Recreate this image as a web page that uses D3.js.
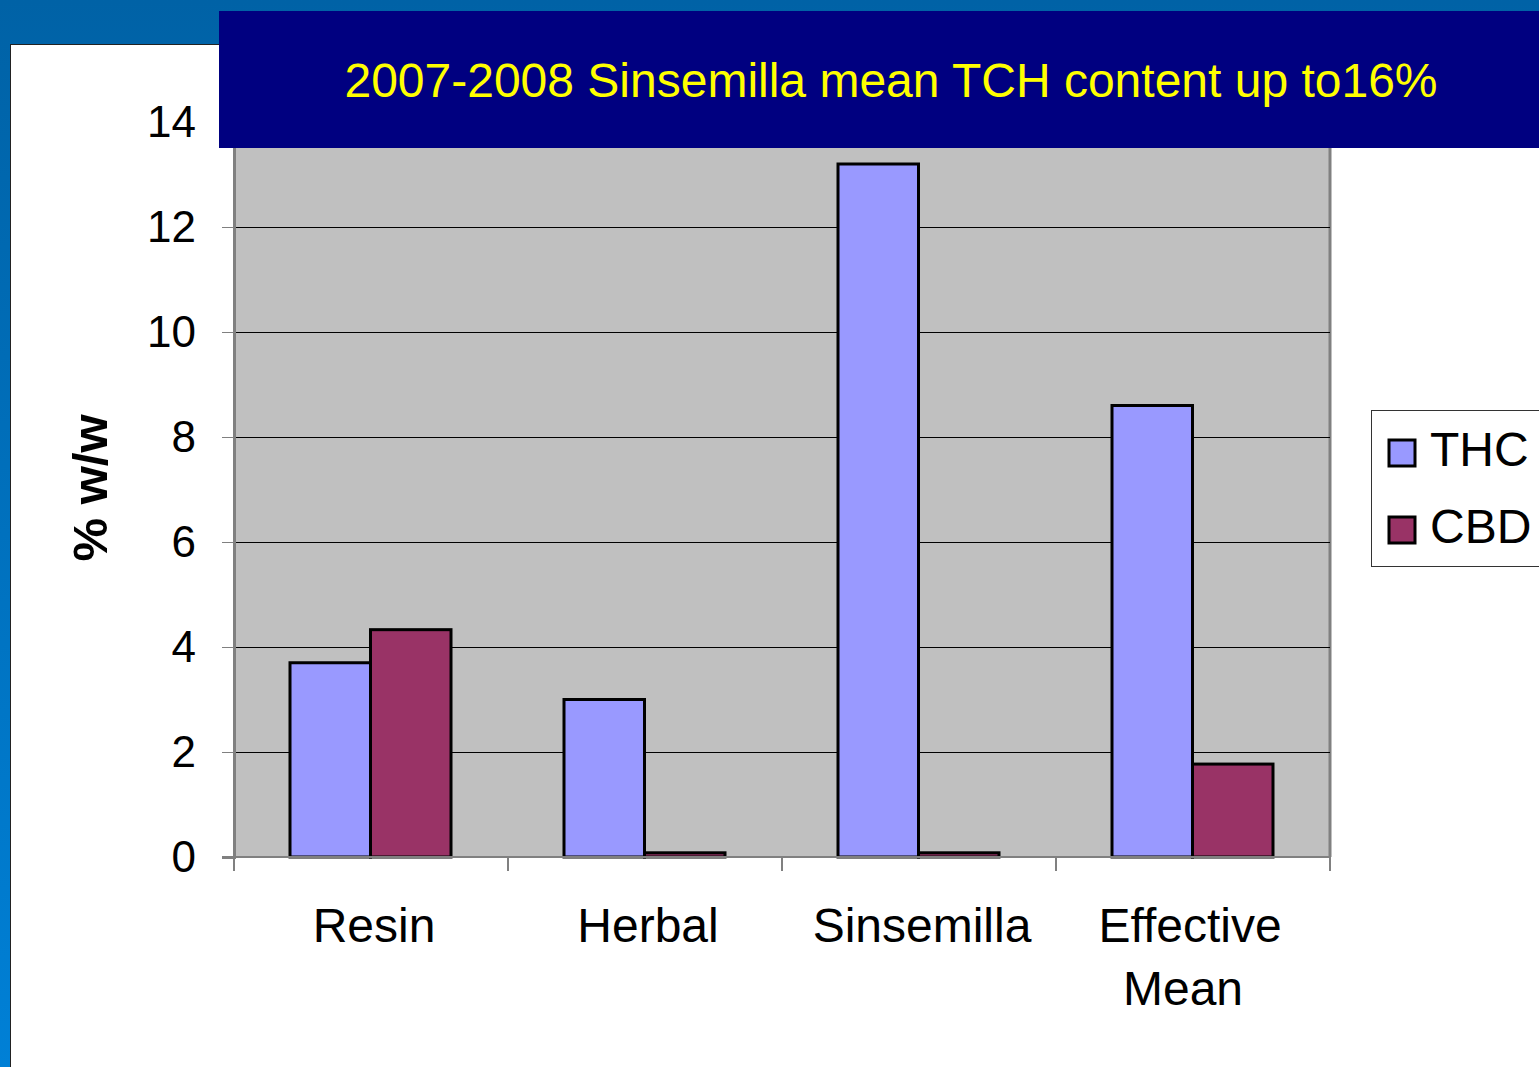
<!DOCTYPE html>
<meta charset="utf-8">
<style>
body { margin: 0; overflow: hidden; }
text { font-family: "Liberation Sans", Arial, sans-serif; }
.grid line { stroke: #000; stroke-width: 1; }
.axis path, .axis line { stroke: #808080; }
</style>
<svg width="1539" height="1067"></svg>
<script src="https://cdn.jsdelivr.net/npm/d3@7"></script>
<script>

var categories = ["Resin", "Herbal", "Sinsemilla", "Effective Mean"];
var series = ["THC", "CBD"];
var thc = [3.7, 3.0, 13.2, 8.6];
var cbd = [4.33, 0.08, 0.08, 1.77];
var yTicks = [0, 2, 4, 6, 8, 10, 12, 14];
var colors = ["#9999FF", "#993366"];
var title = "2007-2008 Sinsemilla mean TCH content up to16%";

var svg = d3.select("svg");

// slide background
var grad = svg.append("defs").append("linearGradient")
    .attr("id", "bg").attr("x1", 0).attr("y1", 0).attr("x2", 0).attr("y2", 1);
grad.append("stop").attr("offset", "0%").attr("stop-color", "#0062A6");
grad.append("stop").attr("offset", "100%").attr("stop-color", "#0080D6");
svg.append("rect").attr("width", 1539).attr("height", 1067).attr("fill", "url(#bg)");
svg.append("rect").attr("x", 10.5).attr("y", 44.5).attr("width", 1540).attr("height", 1040)
    .attr("fill", "#fff").attr("stroke", "#222").attr("stroke-width", 1);

var pLeft = 234, pRight = 1330, pTop = 122, pBottom = 857;

var x = d3.scaleBand().domain(categories).range([pLeft, pRight]);
var x1 = d3.scaleBand().domain(series).range([56, x.bandwidth() - 57]);
var y = d3.scaleLinear().domain([0, 14]).range([pBottom, pTop]);

// plot area
svg.append("rect").attr("x", pLeft).attr("y", pTop).attr("width", pRight - pLeft).attr("height", pBottom - pTop)
    .attr("fill", "#C0C0C0");
svg.append("line").attr("x1", pRight).attr("x2", pRight).attr("y1", pTop).attr("y2", pBottom)
    .attr("stroke", "#808080").attr("stroke-width", 3);

svg.append("g").attr("class", "grid")
    .selectAll("line").data(yTicks.filter(function(d) { return d > 0; }))
    .enter().append("line")
    .attr("x1", pLeft).attr("x2", pRight)
    .attr("y1", function(d) { return Math.round(y(d)) + 0.5; })
    .attr("y2", function(d) { return Math.round(y(d)) + 0.5; });

// bars
var data = categories.map(function(c, i) { return { cat: c, vals: [thc[i], cbd[i]] }; });
svg.append("g").selectAll("g").data(data).enter().append("g")
    .attr("transform", function(d) { return "translate(" + x(d.cat) + ",0)"; })
    .selectAll("rect").data(function(d) { return d.vals.map(function(v, j) { return { s: series[j], v: v, j: j }; }); })
    .enter().append("rect")
    .attr("x", function(d) { return x1(d.s); })
    .attr("width", x1.bandwidth())
    .attr("y", function(d) { return y(d.v); })
    .attr("height", function(d) { return y(0) - y(d.v); })
    .attr("fill", function(d) { return colors[d.j]; })
    .attr("stroke", "#000").attr("stroke-width", 3);

// axes
var yAxis = svg.append("g").attr("class", "axis")
    .attr("transform", "translate(" + pLeft + ",0)")
    .call(d3.axisLeft(y).tickValues(yTicks).tickSize(12).tickPadding(26));
yAxis.select(".domain").attr("stroke-width", 3);
yAxis.selectAll("text").attr("font-size", 44).attr("fill", "#000").attr("dy", "0.34em");

var xAxis = svg.append("g").attr("class", "axis")
    .attr("transform", "translate(0," + pBottom + ")");
xAxis.append("line").attr("x1", pLeft - 12).attr("x2", pRight).attr("stroke-width", 2);
xAxis.selectAll("line.tk").data(x.domain().map(function(c) { return x(c); }).concat([pRight]))
    .enter().append("line").attr("class", "tk")
    .attr("x1", function(d) { return d; }).attr("x2", function(d) { return d; })
    .attr("y1", 0).attr("y2", 14).attr("stroke-width", 2);
xAxis.selectAll("text").data(categories).enter().append("text")
    .attr("text-anchor", "middle").attr("font-size", 48)
    .each(function(d) {
        var words = d.split(" ");
        var t = d3.select(this);
        words.forEach(function(w, i) {
            var off = words.length > 1 ? (i ? -10 : -3) : 3;
            t.append("tspan").attr("x", x(d) + x.bandwidth() / 2 + off)
                .attr("y", 85 + i * 63).text(w);
        });
    });

// y axis label
svg.append("text")
    .attr("transform", "translate(107,488) rotate(-90)")
    .attr("text-anchor", "middle").attr("font-size", 49).attr("font-weight", "bold")
    .text("% w/w");

// title banner
svg.append("rect").attr("x", 219).attr("y", 11).attr("width", 1330).attr("height", 137).attr("fill", "#000080");
svg.append("text").attr("x", 891).attr("y", 97).attr("text-anchor", "middle")
    .attr("font-size", 48).attr("fill", "#FFFF00").text(title);

// legend
var legend = svg.append("g");
legend.append("rect").attr("x", 1371.5).attr("y", 410.5).attr("width", 200).attr("height", 156)
    .attr("fill", "#fff").attr("stroke", "#333").attr("stroke-width", 1);
var li = legend.selectAll("g").data(series).enter().append("g")
    .attr("transform", function(d, i) { return "translate(1389," + (440 + i * 77) + ")"; });
li.append("rect").attr("width", 26).attr("height", 26)
    .attr("fill", function(d, i) { return colors[i]; })
    .attr("stroke", "#000").attr("stroke-width", 3);
li.append("text").attr("x", 41).attr("y", 26).attr("font-size", 48).text(function(d) { return d; });

</script>
